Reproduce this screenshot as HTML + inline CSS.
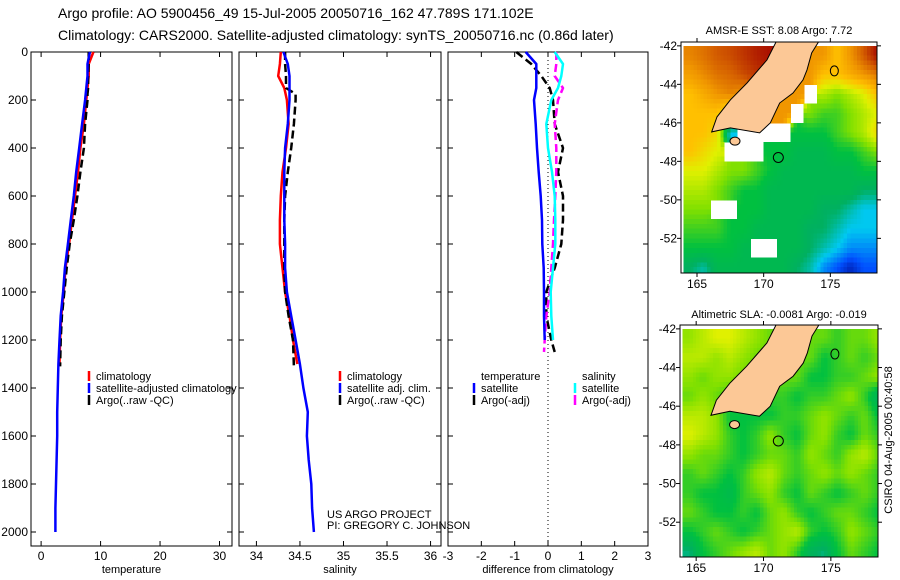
<!DOCTYPE html>
<html><head><meta charset="utf-8"><style>
body{margin:0;background:#fff;}
svg{display:block;font-family:"Liberation Sans",sans-serif;}
</style></head><body>
<svg id="root" width="900" height="580" viewBox="0 0 900 580">
<text x="58" y="18" font-size="14">Argo profile: AO 5900456_49 15-Jul-2005 20050716_162 47.789S 171.102E</text>
<text x="58" y="40" font-size="14">Climatology: CARS2000. Satellite-adjusted climatology: synTS_20050716.nc (0.86d later)</text>
<text x="779" y="34" font-size="11" text-anchor="middle">AMSR-E SST: 8.08 Argo: 7.72</text>
<text x="779" y="318" font-size="11" text-anchor="middle">Altimetric SLA: -0.0081 Argo: -0.019</text>
<text transform="translate(892,440) rotate(-90)" font-size="11" text-anchor="middle">CSIRO 04-Aug-2005 00:40:58</text>
<text x="327" y="518" font-size="11">US ARGO PROJECT</text>
<text x="327" y="529" font-size="11">PI: GREGORY C. JOHNSON</text>
</svg>
<script>
// ---------- profile data ----------
const depthClim = [0,50,100,150,200,300,400,500,600,700,800,900,1000,1100,1200,1300];
const depthSat = [0,50,100,150,200,300,400,500,600,700,800,900,1000,1100,1200,1300,1400,1500,1600,1700,1800,1900,2000];
const depthArgo = [0,50,100,150,175,200,300,400,500,600,700,800,900,1000,1100,1200,1310];
const tempClim = [8.8,8.0,8.0,7.8,7.6,7.2,6.6,6.2,5.7,5.2,4.7,4.1,3.8,3.4,3.2,3.1];
const tempSat = [8.2,7.8,7.8,7.6,7.4,6.9,6.4,5.9,5.5,5.0,4.5,4.0,3.7,3.3,3.1,2.9,2.8,2.7,2.7,2.6,2.5,2.4,2.4];
const tempArgo = [8.0,8.0,7.9,7.9,7.8,7.8,7.4,7.2,6.6,6.1,5.5,4.8,4.3,3.9,3.5,3.3,3.2];
const salClim = [34.28,34.27,34.25,34.32,34.35,34.37,34.34,34.30,34.28,34.27,34.27,34.30,34.33,34.38,34.42,34.47];
const salSat = [34.31,34.36,34.38,34.38,34.38,34.36,34.33,34.32,34.32,34.32,34.33,34.33,34.35,34.40,34.45,34.50,34.54,34.59,34.58,34.60,34.63,34.64,34.66];
const salArgo = [34.33,34.33,34.34,34.34,34.45,34.45,34.43,34.40,34.36,34.33,34.32,34.32,34.32,34.33,34.37,34.42,34.43];
const depthDiff = [0,50,100,150,200,300,400,500,600,700,800,900,1000,1100,1200];
const depthDiffArgo = [0,50,100,150,200,300,400,500,600,700,800,900,1000,1100,1200,1250];
const dTempSat = [-0.67,-0.35,-0.35,-0.35,-0.42,-0.37,-0.33,-0.28,-0.22,-0.18,-0.17,-0.13,-0.12,-0.12,-0.1];
const dTempArgo = [-0.95,-0.5,-0.2,0.05,0.15,0.2,0.45,0.3,0.45,0.45,0.4,0.2,-0.05,-0.05,0.1,0.2];
const dSalSat = [0.2,0.45,0.4,0.3,0.1,-0.05,0.0,0.12,0.2,0.22,0.22,0.15,0.08,0.1,0.15];
const dSalArgo = [0.25,0.25,0.2,0.45,0.3,0.2,0.25,0.25,0.22,0.18,0.15,0.1,0.05,-0.05,-0.1,-0.12];
const depthTicks = [0,200,400,600,800,1000,1200,1400,1600,1800,2000];
const tempTicks = [0,10,20,30];
const salTicks = [34,34.5,35,35.5,36];
const diffTicks = [-3,-2,-1,0,1,2,3];

// ---------- map data (1 degree cells, lon 164..178, lat -42..-54; null = no data) ----------
const mapLons = [164,165,166,167,168,169,170,171,172,173,174,175,176,177,178];
const mapLats = [-42,-43,-44,-45,-46,-47,-48,-49,-50,-51,-52,-53];
const sstGrid = [
[12.3,12.6,13,13.2,13.5,13.8,14,14,12,12,12,11,12,13,14],
[11.8,12.2,12.6,12.8,13.2,13.5,13.8,12,12,12,11,11,11.5,12,12.5],
[11,11.5,12,12.3,12,null,12,12,12,null,9.5,9,9.5,10,11],
[11,11,11,10,null,12,12,12,null,9,8.5,8.5,9,9.5,10],
[11,11,10.5,6,null,null,null,null,8,8,8,8.5,9,9.5,10.5],
[11,10.5,10,null,null,null,8,8,7.5,7.5,7.5,8,8,8.5,9],
[10,10,9.5,9,9,8.5,8,7.5,7.5,7.5,7.5,7.5,7.5,8,8],
[9.5,9.5,9,8.5,8,8,7.5,7.5,7.5,7.5,7.5,7.5,7.5,7,7],
[9,9,null,null,8,8,7.5,7.5,7.5,7.5,7,7,6.5,6,6],
[8.5,8.5,8.5,8,8,7.5,7.5,7.5,7.5,7,7,6.5,6,6,6],
[8,8,8,8,7.5,null,null,7.5,7.5,7,6.5,6,5.5,5.5,5.5],
[7,6.5,7.5,7.5,7.5,7.5,7.5,7.5,7,6.5,5.5,5,4.5,5,5]];
const slaGrid = [
[3,4,5,5,4,3,2,2,2,2,2,1,2,2,3],
[4,4,3,4,3,2,2,2,2,2,0,1,2,1,2],
[3,2,3,3,2,2,2,2,2,0,0,1,1,2,3],
[2,3,2,1,1,1,1,1,0,1,1,2,3,1,-2],
[4,4,3,0,0,0,0,1,1,2,3,2,1,2,0],
[5,4,3,1,0,1,3,1,0,2,3,1,0,2,1],
[3,2,2,1,0,1,2,2,1,3,2,1,3,4,2],
[1,2,1,0,1,3,4,2,1,2,3,2,3,2,1],
[1,0,0,-1,1,2,3,1,0,2,1,0,1,2,1],
[2,1,0,0,1,0,2,3,1,0,1,2,2,1,0],
[0,1,2,1,0,1,2,3,4,1,0,1,3,2,1],
[-3,0,1,2,3,4,2,3,1,-2,-3,0,2,1,0]];
const landLon = [171.0,170.25,168.75,167.5,166.5,166.1,167.5,169.7,170.5,171.2,172.2,172.95,173.25,173.6,174.2];
const landLat = [-41.7,-42.73,-43.93,-44.81,-45.69,-46.47,-46.26,-46.52,-46.0,-44.97,-44.45,-43.77,-43.25,-42.37,-41.7];
const mapLatTicks = [-42,-44,-46,-48,-50,-52];
const mapLonTicks = [165,170,175];
const argoLon = 171.1, argoLat = -47.8;

const NS = 'http://www.w3.org/2000/svg';
const root = document.getElementById('root');
function mk(tag, attrs, parent){const e=document.createElementNS(NS,tag);for(const k in attrs)e.setAttribute(k,attrs[k]);(parent||root).appendChild(e);return e;}

const Y0=52, Y1=532, PB=546;
const yDepth = d => Y0 + (d/2000)*(Y1-Y0);

function panel(name, x0, x1, vmin, vmax, ticks, label, showY){
  const sx = v => x0 + (v-vmin)/(vmax-vmin)*(x1-x0);
  const g = mk('g',{});
  
  
  const r = mk('rect',{x:x0,y:Y0,width:x1-x0,height:PB-Y0,fill:'none',stroke:'#000','stroke-width':1},g);
  
  
  depthTicks.forEach(d=>{
    const y=yDepth(d);
    mk('line',{x1:x0,x2:x0+5,y1:y,y2:y,stroke:'#000'},g);
    mk('line',{x1:x1-5,x2:x1,y1:y,y2:y,stroke:'#000'},g);
    if(showY){const t=mk('text',{x:x0-3,y:y+4,'font-size':12,'text-anchor':'end'},g);t.textContent=d;
      
      }
  });
  ticks.forEach(v=>{
    const x=sx(v);
    mk('line',{x1:x,x2:x,y1:PB,y2:PB-5,stroke:'#000'},g);
    mk('line',{x1:x,x2:x,y1:Y0,y2:Y0+5,stroke:'#000'},g);
    const t=mk('text',{x:x,y:PB+14,'font-size':12,'text-anchor':'middle'},g);t.textContent=v;
    
    
  });
  const t=mk('text',{x:(x0+x1)/2,y:PB+27,'font-size':11,'text-anchor':'middle'},g);t.textContent=label;
  
  
  return sx;
}
function line(sx, vals, depths, color, dash, name){
  const pts = vals.map((v,i)=>sx(v).toFixed(1)+','+yDepth(depths[i]).toFixed(1)).join(' ');
  const a={points:pts,fill:'none',stroke:color,'stroke-width':2.5,'stroke-linejoin':'round'};
  if(dash)a['stroke-dasharray']=dash;
  const p=mk('polyline',a);
  
  
}
function legend(x, y, items){
  items.forEach((it,i)=>{
    const yy=y+i*12;
    if(it.color){
      const l=mk('line',{x1:x,x2:x,y1:yy-9,y2:yy+1,stroke:it.color,'stroke-width':2.5});
      
      
    }
    const t=mk('text',{x:x+7,y:yy,'font-size':11});t.textContent=it.text;
    
    
  });
}

// temperature panel
const sT = panel('temperature-panel',31,232,-1.7,32.1,tempTicks,'temperature',true);
line(sT,tempClim,depthClim,'#f00',null,'temp-climatology-line');
line(sT,tempArgo,depthArgo,'#000','8,4','temp-argo-line');
line(sT,tempSat,depthSat,'#00f',null,'temp-satellite-line');
legend(89,380,[{color:'#f00',text:'climatology'},{color:'#00f',text:'satellite-adjusted climatology'},{color:'#000',text:'Argo(..raw -QC)'}]);

// salinity panel
const sS = panel('salinity-panel',239,441,33.8,36.12,salTicks,'salinity',false);
line(sS,salClim,depthClim,'#f00',null,'sal-climatology-line');
line(sS,salArgo,depthArgo,'#000','8,4','sal-argo-line');
line(sS,salSat,depthSat,'#00f',null,'sal-satellite-line');
legend(340,380,[{color:'#f00',text:'climatology'},{color:'#00f',text:'satellite adj. clim.'},{color:'#000',text:'Argo(..raw -QC)'}]);

// difference panel
const sD = panel('difference-panel',448,648,-3,3,diffTicks,'difference from climatology',false);
const zl=mk('line',{x1:sD(0),x2:sD(0),y1:Y0,y2:PB,stroke:'#000','stroke-dasharray':'1,3'});


line(sD,dTempArgo,depthDiffArgo,'#000','8,4','dtemp-argo-line');
line(sD,dSalArgo,depthDiffArgo,'#f0f','8,4','dsal-argo-line');
line(sD,dTempSat,depthDiff,'#00f',null,'dtemp-satellite-line');
line(sD,dSalSat,depthDiff,'#0ff',null,'dsal-satellite-line');
legend(474,380,[{text:'temperature'},{color:'#00f',text:'satellite'},{color:'#000',text:'Argo(-adj)'}]);
legend(575,380,[{text:'salinity'},{color:'#0ff',text:'satellite'},{color:'#f0f',text:'Argo(-adj)'}]);

// ---------- maps ----------
const cstops=[[4,[0,0,127]],[5,[0,80,255]],[6,[0,200,240]],[7,[0,176,96]],[8,[0,192,64]],[9,[128,224,0]],[10,[224,240,0]],[11,[255,192,0]],[12,[240,150,0]],[13,[210,90,0]],[14,[170,16,0]]];
function cmap(v){
  if(v<=cstops[0][0])return 'rgb('+cstops[0][1]+')';
  for(let i=1;i<cstops.length;i++){if(v<=cstops[i][0]){const a=cstops[i-1],b=cstops[i],t=(v-a[0])/(b[0]-a[0]);
    return 'rgb('+a[1].map((c,k)=>Math.round(c+(b[1][k]-c)*t)).join(',')+')';}}
  return 'rgb('+cstops[cstops.length-1][1]+')';
}
// bilinear sample of grid at fractional cell-centre coordinates, ignoring nulls
function sample(grid, fr, fc){
  const r0=Math.max(0,Math.min(grid.length-1,Math.floor(fr))), c0=Math.max(0,Math.min(grid[0].length-1,Math.floor(fc)));
  const r1=Math.min(grid.length-1,r0+1), c1=Math.min(grid[0].length-1,c0+1);
  const tr=Math.max(0,Math.min(1,fr-r0)), tc=Math.max(0,Math.min(1,fc-c0));
  const pts=[[r0,c0,(1-tr)*(1-tc)],[r0,c1,(1-tr)*tc],[r1,c0,tr*(1-tc)],[r1,c1,tr*tc]];
  let s=0,w=0;pts.forEach(p=>{const v=grid[p[0]][p[1]];if(v!==null){s+=v*p[2];w+=p[2];}});
  return w>0?s/w:null;
}
function drawMap(name, x0,x1,y0,y1, grid, toIdx){
  const lonMin=163.8, lonMax=178.5, latMax=-41.8, latMin=-53.8;
  const sx = lon => x0+(lon-lonMin)/(lonMax-lonMin)*(x1-x0);
  const sy = lat => y0+(latMax-lat)/(latMax-latMin)*(y1-y0);
  const g=mk('g',{});
  
  
  const cid=name+'-clip';
  const cp=mk('clipPath',{id:cid},g); mk('rect',{x:x0,y:y0,width:x1-x0,height:y1-y0},cp);
  const cells=mk('g',{'clip-path':'url(#'+cid+')','shape-rendering':'crispEdges'},g);
  mk('rect',{x:x0,y:y0,width:x1-x0,height:y1-y0,fill:'#fff'},cells);
  const sub=4;
  grid.forEach((row,ri)=>row.forEach((v,ci)=>{
    if(v===null)return;
    const lat=mapLats[ri], lon=mapLons[ci];
    for(let a=0;a<sub;a++)for(let b=0;b<sub;b++){
      const la=lat-a/sub, lo=lon+b/sub;
      const fr=ri+(a+0.5)/sub-0.5, fc=ci+(b+0.5)/sub-0.5;
      const val=sample(grid,fr,fc);
      const c=mk('rect',{x:sx(lo),y:sy(la),width:sx(lo+1/sub)-sx(lo)+0.6,height:sy(la-1/sub)-sy(la)+0.6,fill:cmap(toIdx(val===null?v:val))},cells);
      
      
    }
  }));
  const lp=mk('polygon',{points:landLon.map((l,i)=>sx(l)+','+sy(landLat[i])).join(' '),fill:'#fcc896',stroke:'#000','stroke-width':1,'shape-rendering':'auto'},cells);
  
  
  const si=mk('ellipse',{cx:sx(167.85),cy:sy(-46.95),rx:5,ry:4,fill:'#fcc896',stroke:'#000','shape-rendering':'auto'},cells);
  
  
  const ac=mk('circle',{cx:sx(argoLon),cy:sy(argoLat),r:5,fill:'none',stroke:'#000','shape-rendering':'auto'},cells);
  
  
  mk('ellipse',{cx:sx(175.3),cy:sy(-43.3),rx:4,ry:5,fill:'none',stroke:'#000','shape-rendering':'auto'},cells);
  const fr=mk('rect',{x:x0,y:y0,width:x1-x0,height:y1-y0,fill:'none',stroke:'#000'},g);
  
  
  mapLatTicks.forEach(l=>{const y=sy(l);
    mk('line',{x1:x0,x2:x0-4,y1:y,y2:y,stroke:'#000'},g);mk('line',{x1:x1,x2:x1+4,y1:y,y2:y,stroke:'#000'},g);
    const t=mk('text',{x:x0-4,y:y+4,'font-size':12,'text-anchor':'end'},g);t.textContent=l;
    
    });
  mapLonTicks.forEach(l=>{const x=sx(l);
    mk('line',{x1:x,x2:x,y1:y1,y2:y1+4,stroke:'#000'},g);mk('line',{x1:x,x2:x,y1:y0,y2:y0-4,stroke:'#000'},g);
    const t=mk('text',{x:x,y:y1+15,'font-size':12,'text-anchor':'middle'},g);t.textContent=l;
    
    });
}
drawMap('sst-map',681,877,42,273,sstGrid,v=>v);
drawMap('sla-map',680,878,325,557,slaGrid,v=>8+v*0.4);
</script>
</body></html>
